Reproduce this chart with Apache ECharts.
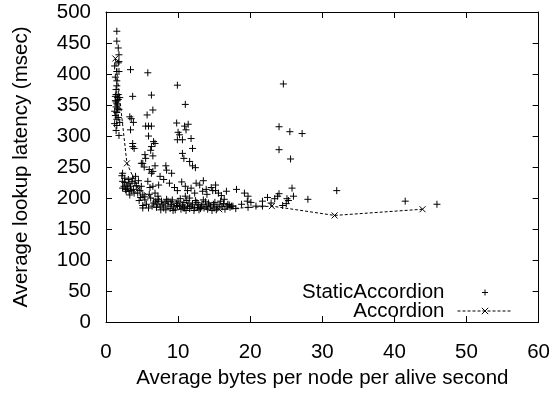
<!DOCTYPE html>
<html>
<head>
<meta charset="utf-8">
<script src="https://cdn.jsdelivr.net/npm/echarts@6/dist/echarts.min.js"></script>
<style>html,body{margin:0;padding:0;background:#fff}#c{width:553px;height:394px}</style>
</head>
<body>
<div id="c"></div>
<script>
// ---- data ----
var xTicks = [0, 10, 20, 30, 40, 50, 60];
var yTicks = [0, 50, 100, 150, 200, 250, 300, 350, 400, 450, 500];
var seriesNames = ['StaticAccordion', 'Accordion'];
var xTitle = 'Average bytes per node per alive second';
var yTitle = 'Average lookup latency (msec)';

// StaticAccordion: [bytes, latency]
var staticColumn = [
  [1.5,469],[1.5,453],[1.7,442],[1.8,431],[1.8,420],[1.2,413],[1.7,418],[1.5,404],[1.8,404],[1.3,395],
  [1.5,389],[1.5,381],[1.4,375],[1.4,367],[1.7,367],[1.9,362],[1.7,359],[1.4,355],[1.6,350],[1.4,347],
  [1.8,343],[1.5,338],[1.3,333],[1.5,327],[1.9,322],[1.5,317],[1.4,309],[1.8,301],[1.2,340],[1.6,362],
  [1.3,357],[1.5,352],[1.2,320],[1.7,330],[1.3,364],[1.6,345]
];
var staticLeftCluster = [
  [2.3,240],[2.6,232],[2.3,227],[2.5,219],[2.3,216],[2.9,221],[3.6,227],[3.7,232],[4.1,235],[4.0,224],
  [3.2,211],[2.8,211],[3.3,205],[4.7,212],[4.9,219],[4.4,208],[5.1,205],[5.4,197],[5.1,188],[5.1,184],
  [2.6,225],[3.0,216],[3.4,219],[3.8,214],[4.2,220],[2.2,236],[3.1,230],[4.5,228],[3.9,208],[3.5,212],
  [2.7,214],[3.2,224]
];
var staticStrands = [
  [3.4,407],[3.7,364],[3.3,331],[3.5,328],[3.8,322],[3.4,310],[3.7,288],[3.7,283],[3.9,280],
  [5.8,402],[6.3,366],[6.5,342],[5.7,334],[5.5,316],[5.9,316],[6.3,316],[5.9,300],[6.6,291],[6.8,288],
  [6.3,283],[6.2,277],[6.5,268],[5.4,270],[5.5,264],[5.1,256],[4.9,256],[5.3,250],[6.8,252],[6.3,240],
  [6.5,243],[6.0,246],
  [9.9,382],[11.0,351],[9.8,321],[11.4,319],[10.9,316],[11.1,310],[10.0,306],[9.9,294],[10.6,294],
  [11.8,296],[12.0,280],[10.6,272],[10.8,264],[11.6,259],[12.0,252],[12.4,249],[8.3,252],[8.4,245],
  [9.1,240],[10.2,302]
];
var staticMidBand = [
  [6.1,217],[6.5,219],[7.3,221],[5.8,227],[6.8,208],[7.2,203],[8.8,224],[9.5,217],[9.9,212],[11.0,219],
  [11.3,212],[11.8,216],[12.5,224],[13.0,221],[12.3,208],[13.4,211],[13.9,214],[14.6,217],[15.2,212],
  [15.2,221],[14.8,212],[15.6,208],[16.4,198],[16.7,211],[11.0,203],[11.6,200],[8.0,230],[7.5,235],
  [10.5,226],[13.5,228],[14.0,206],[16.0,204]
];
var staticBase = [
  [6.9,195],[7.7,195],[7.9,189],[7.5,187],[8.6,195],[9.1,190],[9.2,197],[9.8,192],[10.2,187],[10.6,189],
  [10.9,184],[11.3,187],[11.8,187],[12.3,184],[12.7,185],[13.2,187],[13.6,184],[14.1,182],[14.5,187],
  [15.0,184],[15.4,186],[8.3,181],[8.6,187],[6.2,200],[6.6,192],[7.0,185],[7.3,198],[8.0,184],[8.2,192],
  [8.9,183],[9.4,186],[9.6,181],[10.0,195],[10.4,182],[10.8,193],[11.1,180],[11.5,192],[12.0,190],
  [12.2,180],[12.6,193],[12.9,181],[13.3,190],[13.8,194],[14.3,189],[14.7,180],[15.1,193],[15.7,189],
  [16.1,186],[16.5,182],[16.9,190],[17.2,185],[17.6,187],[18.0,183],[5.6,190],[5.9,184],[6.4,187],
  [7.1,190],[7.6,181],[8.4,198],[9.0,194],[9.3,180],[9.9,188],[10.3,199],[10.7,184],[11.2,196],
  [11.6,183],[12.4,196],[12.8,189],[13.1,183],[13.5,197],[13.9,186],[14.2,192],[14.9,190],[15.3,181],
  [15.9,195],[16.3,191],[4.6,196],[4.8,201],[5.3,202],[6.0,206]
];
var staticRight = [
  [17.1,189],[17.4,187],[16.8,187],[18.1,214],[19.2,208],[19.7,203],[20.1,193],[19.6,195],[19.7,185],
  [20.8,187],[21.7,187],[21.7,195],[22.4,201],[23.4,199],[23.8,203],[24.0,207],[25.1,199],[25.3,196],
  [25.0,191],[25.8,216],[26.0,203],[28.0,198],[18.8,190],[22.9,192],[24.5,188]
];
var staticOutliers = [
  [24.6,384],[24.0,315],[25.5,307],[27.2,304],[24.0,278],[25.6,263],[32.0,212],[41.5,195],[45.9,190]
];
// Accordion: [bytes, latency]
var accordionPoints = [
  [1.3,425],[2.9,256],[4.5,215],[7.0,195],[10.0,187],[15.7,182],[23.0,187],[31.7,172],[43.9,182]
];

var staticPoints = [].concat(staticColumn, staticLeftCluster, staticStrands, staticMidBand,
  staticBase, staticRight, staticOutliers);

// ---- chart ----
var FONT = '"Liberation Sans", Arial, Helvetica, sans-serif';
var FS = 20.5;
var plusSym = 'path://M0,5L10,5M5,0L5,10';
var crossSym = 'path://M0,0M20,20M6,6L14,14M14,6L6,14';
var plusLegend = 'path://M0,0M55,20M24.5,10L30.5,10M27.5,7L27.5,13';

var chart = echarts.init(document.getElementById('c'), null, {renderer: 'canvas'});

function baseAxis(ticks, extra) {
  var a = {
    type: 'value',
    min: ticks[0],
    max: ticks[ticks.length - 1],
    interval: ticks[1] - ticks[0],
    splitLine: {show: false},
    axisLine: {show: true, onZero: false, lineStyle: {color: '#000', width: 1}},
    axisTick: {show: true, inside: true, length: 6, lineStyle: {color: '#000', width: 1}},
    axisLabel: {show: false}
  };
  for (var k in extra) a[k] = extra[k];
  return a;
}

chart.setOption({
  animation: false,
  backgroundColor: '#fff',
  textStyle: {fontFamily: FONT},
  grid: {left: 106, right: 12, top: 12, bottom: 69, containLabel: false},
  xAxis: [
    baseAxis(xTicks, {
      position: 'bottom',
      name: xTitle,
      nameLocation: 'middle',
      nameGap: 41,
      nameTextStyle: {color: '#000', fontSize: FS, fontFamily: FONT},
      axisLabel: {show: true, color: '#000', fontSize: FS, fontFamily: FONT, margin: 20}
    }),
    baseAxis(xTicks, {position: 'top'})
  ],
  yAxis: [
    baseAxis(yTicks, {
      position: 'left',
      name: yTitle,
      nameLocation: 'middle',
      nameGap: 74,
      nameTextStyle: {color: '#000', fontSize: FS, fontFamily: FONT},
      axisLabel: {show: true, color: '#000', fontSize: FS, fontFamily: FONT, margin: 15}
    }),
    baseAxis(yTicks, {position: 'right'})
  ],
  legend: [
    {
      data: [{name: seriesNames[0], icon: plusLegend}],
      right: 40, top: 282, padding: 0,
      align: 'right',
      itemWidth: 55, itemHeight: 20,
      selectedMode: false,
      itemStyle: {color: '#000', borderColor: '#000', borderWidth: 1},
      textStyle: {color: '#000', fontSize: FS, fontFamily: FONT, padding: [0, 8, 0, 0]}
    },
    {
      data: [seriesNames[1]],
      right: 40, top: 300.5, padding: 0,
      align: 'right',
      itemWidth: 55, itemHeight: 20,
      selectedMode: false,
      itemStyle: {color: '#000', borderColor: '#000', borderWidth: 1},
      lineStyle: {color: '#000', width: 1, type: [3, 2]},
      textStyle: {color: '#000', fontSize: FS, fontFamily: FONT, padding: [0, 8, 0, 0]}
    }
  ],
  series: [
    {
      name: seriesNames[0],
      type: 'scatter',
      xAxisIndex: 0, yAxisIndex: 0,
      data: staticPoints,
      symbol: plusSym,
      symbolSize: 7,
      itemStyle: {color: '#000', borderColor: '#000', borderWidth: 1, opacity: 1},
      z: 2
    },
    {
      name: seriesNames[1],
      type: 'line',
      xAxisIndex: 0, yAxisIndex: 0,
      data: accordionPoints,
      symbol: crossSym,
      symbolSize: 15,
      showSymbol: true,
      lineStyle: {color: '#000', width: 1, type: [3, 2]},
      itemStyle: {color: '#000', borderColor: '#000', borderWidth: 1},
      z: 3
    }
  ]
});
</script>
</body>
</html>
